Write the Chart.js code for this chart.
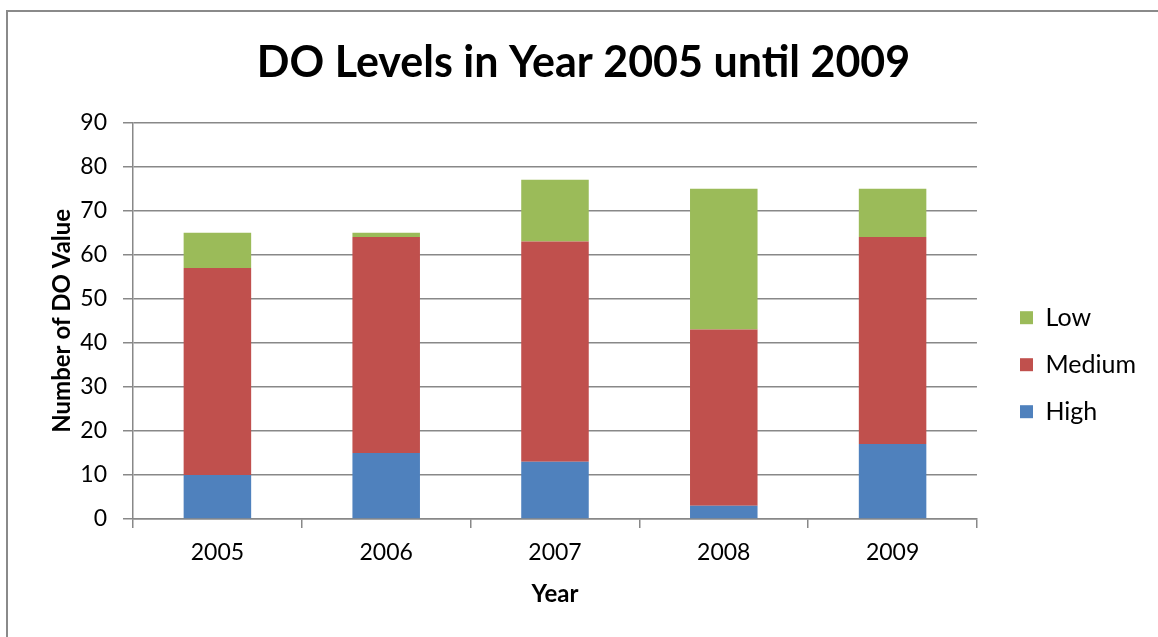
<!DOCTYPE html>
<html lang="en">
<head>
    <meta charset="UTF-8">
    <title>DO Levels</title>
    <script src="https://cdn.jsdelivr.net/npm/chart.js"></script>
    <style>
        body { margin: 0; background: #fff; overflow: hidden; }
        .frame {
            position: absolute; left: 6px; top: 10px; width: 1200px; height: 700px;
            border-top: 2px solid #8a8a8a; border-left: 2px solid #8a8a8a;
        }
        #doChart { position: absolute; left: 0; top: 0; }
    </style>
</head>
<body>
<div class="frame"></div>
<canvas id="doChart" width="1158" height="637"></canvas>
<script>
    // data
    const years = ['2005', '2006', '2007', '2008', '2009'];
    const high = [10, 15, 13, 3, 17];
    const medium = [47, 49, 50, 40, 47];
    const low = [8, 1, 14, 32, 11];
    const yTicks = [0, 10, 20, 30, 40, 50, 60, 70, 80, 90];

    const FONT = 'Lato, "Open Sans", sans-serif';
    const GRID = '#888888';

    const ctx = document.getElementById('doChart').getContext('2d');

    new Chart(ctx, {
        type: 'bar',
        data: {
            labels: years,
            datasets: [
                { label: 'High', data: high, backgroundColor: '#4f81bd' },
                { label: 'Medium', data: medium, backgroundColor: '#c0504d' },
                { label: 'Low', data: low, backgroundColor: '#9bbb59' }
            ]
        },
        options: {
            responsive: false,
            animation: false,
            layout: { padding: { left: 21, top: 0, right: 12, bottom: 0 } },
            datasets: {
                bar: { barPercentage: 0.4, categoryPercentage: 1 }
            },
            scales: {
                x: {
                    stacked: true,
                    afterFit: s => { s.height = 118; },
                    grid: { offset: true, drawOnChartArea: false, color: GRID, lineWidth: 1.5, tickLength: 9 },
                    border: { color: GRID, width: 1.5 },
                    ticks: { color: '#000', padding: 11, font: { family: FONT, size: 23 } },
                    title: {
                        display: true, text: 'Year', color: '#000',
                        font: { family: FONT, size: 24, weight: 'bold' },
                        padding: { top: 4, bottom: 28 }
                    }
                },
                y: {
                    stacked: true,
                    min: 0,
                    max: 90,
                    afterFit: s => { s.width = 112; },
                    afterBuildTicks: s => { s.ticks = yTicks.map(v => ({ value: v })); },
                    grid: { color: GRID, lineWidth: 1.5, tickLength: 10 },
                    border: { color: GRID, width: 1.5 },
                    ticks: { color: '#000', padding: 16, font: { family: FONT, size: 23 } },
                    title: {
                        display: true, text: 'Number of DO Value', color: '#000',
                        font: { family: FONT, size: 24, weight: 'bold' },
                        padding: { top: 27, bottom: 4 }
                    }
                },
                // empty spacer between plot and legend
                gap: {
                    type: 'linear',
                    position: 'right',
                    afterFit: s => { s.width = 21; },
                    grid: { display: false },
                    border: { display: false },
                    ticks: { display: false }
                }
            },
            plugins: {
                title: {
                    display: true,
                    text: 'DO Levels in Year 2005 until 2009',
                    color: '#000',
                    font: { family: FONT, size: 43, weight: 'bold', lineHeight: 1.2 },
                    padding: { top: 37, bottom: 34 }
                },
                legend: {
                    position: 'right',
                    reverse: true,
                    title: { display: true, text: ' ', font: { size: 2 }, padding: { top: 90, bottom: 0 } },
                    labels: {
                        color: '#000',
                        boxWidth: 13,
                        boxHeight: 13,
                        padding: 22,
                        font: { family: FONT, size: 25 }
                    }
                },
                tooltip: { enabled: false }
            }
        }
    });
</script>
</body>
</html>
